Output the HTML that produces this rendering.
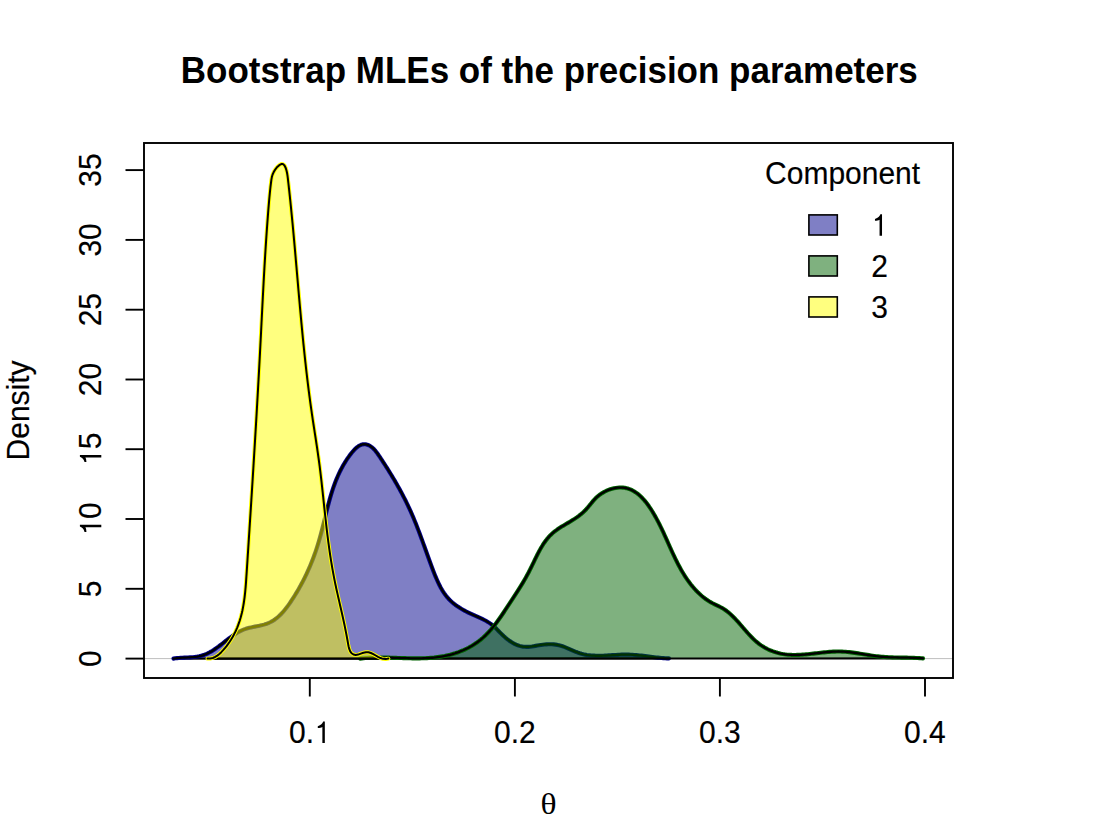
<!DOCTYPE html>
<html><head><meta charset="utf-8"><style>html,body{margin:0;padding:0;background:#fff;overflow:hidden}svg{display:block}</style></head><body>
<svg width="1095" height="823" viewBox="0 0 1095 823">
<rect width="1095" height="823" fill="#fff"/>
<text transform="translate(549.3,83) scale(1,1.055)" font-family="Liberation Sans" font-weight="bold" font-size="35" text-anchor="middle">Bootstrap MLEs of the precision parameters</text>
<line x1="144" y1="658.6" x2="953" y2="658.6" stroke="#bebebe" stroke-width="1"/>
<path d="M173.50,658.60 L175.22,658.33 L176.98,658.11 L178.77,657.94 L180.60,657.81 L182.45,657.70 L184.32,657.61 L186.20,657.53 L188.09,657.44 L189.98,657.33 L191.86,657.20 L193.74,657.04 L195.59,656.83 L197.43,656.56 L199.24,656.22 L201.01,655.80 L202.75,655.30 L204.44,654.71 L206.11,654.05 L207.73,653.31 L209.33,652.50 L210.90,651.64 L212.45,650.71 L213.98,649.74 L215.48,648.73 L216.97,647.68 L218.45,646.61 L219.91,645.50 L221.37,644.38 L222.82,643.25 L224.27,642.11 L225.72,640.97 L227.17,639.84 L228.62,638.72 L230.08,637.62 L231.56,636.54 L233.05,635.49 L234.55,634.48 L236.08,633.51 L237.63,632.58 L239.20,631.70 L240.81,630.89 L242.45,630.13 L244.12,629.44 L245.84,628.82 L247.59,628.28 L249.39,627.80 L251.21,627.38 L253.04,626.98 L254.89,626.62 L256.74,626.25 L258.59,625.89 L260.42,625.50 L262.24,625.08 L264.02,624.61 L265.77,624.08 L267.47,623.48 L269.12,622.78 L270.71,622.00 L272.26,621.14 L273.76,620.21 L275.22,619.20 L276.63,618.12 L278.00,616.98 L279.33,615.78 L280.62,614.52 L281.88,613.22 L283.11,611.87 L284.30,610.47 L285.46,609.05 L286.60,607.59 L287.71,606.10 L288.80,604.59 L289.87,603.06 L290.92,601.52 L291.95,599.96 L292.96,598.40 L293.96,596.84 L294.95,595.26 L295.92,593.68 L296.87,592.10 L297.81,590.51 L298.73,588.91 L299.64,587.31 L300.53,585.70 L301.41,584.08 L302.28,582.46 L303.12,580.84 L303.96,579.20 L304.78,577.57 L305.58,575.92 L306.37,574.27 L307.15,572.62 L307.91,570.96 L308.65,569.29 L309.39,567.62 L310.10,565.94 L310.81,564.26 L311.50,562.57 L312.17,560.88 L312.83,559.18 L313.48,557.48 L314.12,555.77 L314.74,554.06 L315.35,552.34 L315.94,550.62 L316.52,548.89 L317.09,547.16 L317.64,545.42 L318.18,543.68 L318.71,541.94 L319.22,540.19 L319.72,538.43 L320.21,536.67 L320.69,534.91 L321.16,533.14 L321.62,531.37 L322.08,529.60 L322.53,527.83 L322.97,526.05 L323.41,524.28 L323.85,522.50 L324.28,520.72 L324.71,518.94 L325.15,517.16 L325.58,515.38 L326.01,513.60 L326.45,511.82 L326.90,510.04 L327.35,508.27 L327.80,506.49 L328.26,504.72 L328.73,502.95 L329.21,501.19 L329.70,499.42 L330.20,497.66 L330.71,495.91 L331.24,494.16 L331.78,492.41 L332.34,490.67 L332.91,488.93 L333.50,487.20 L334.11,485.47 L334.73,483.75 L335.38,482.04 L336.05,480.34 L336.75,478.64 L337.46,476.95 L338.20,475.26 L338.97,473.59 L339.77,471.92 L340.59,470.27 L341.44,468.62 L342.32,466.98 L343.23,465.35 L344.17,463.74 L345.15,462.13 L346.16,460.53 L347.20,458.95 L348.29,457.38 L349.40,455.82 L350.56,454.27 L351.75,452.74 L352.99,451.27 L354.26,449.86 L355.56,448.56 L356.90,447.38 L358.28,446.34 L359.68,445.49 L361.12,444.83 L362.59,444.39 L364.10,444.20 L365.63,444.29 L367.17,444.65 L368.71,445.25 L370.21,446.06 L371.65,447.06 L373.00,448.22 L374.29,449.52 L375.51,450.93 L376.68,452.42 L377.81,453.98 L378.90,455.58 L379.98,457.20 L381.05,458.81 L382.11,460.42 L383.16,462.03 L384.20,463.63 L385.23,465.24 L386.25,466.83 L387.26,468.43 L388.26,470.02 L389.25,471.62 L390.23,473.21 L391.20,474.80 L392.16,476.38 L393.11,477.97 L394.06,479.56 L394.99,481.15 L395.91,482.73 L396.82,484.32 L397.73,485.91 L398.62,487.50 L399.50,489.09 L400.37,490.68 L401.24,492.28 L402.09,493.88 L402.93,495.48 L403.76,497.08 L404.58,498.69 L405.40,500.30 L406.20,501.91 L406.99,503.53 L407.77,505.15 L408.54,506.78 L409.30,508.41 L410.05,510.05 L410.79,511.69 L411.52,513.34 L412.24,514.99 L412.95,516.65 L413.65,518.32 L414.35,519.99 L415.03,521.67 L415.71,523.35 L416.38,525.03 L417.04,526.72 L417.70,528.42 L418.35,530.12 L419.00,531.82 L419.64,533.53 L420.28,535.24 L420.91,536.95 L421.55,538.67 L422.18,540.39 L422.80,542.11 L423.43,543.84 L424.05,545.56 L424.68,547.29 L425.30,549.03 L425.92,550.76 L426.55,552.50 L427.17,554.24 L427.80,555.98 L428.43,557.72 L429.06,559.46 L429.70,561.20 L430.34,562.94 L430.98,564.69 L431.63,566.43 L432.28,568.18 L432.94,569.92 L433.61,571.66 L434.29,573.40 L434.98,575.14 L435.68,576.86 L436.40,578.58 L437.14,580.28 L437.90,581.96 L438.69,583.63 L439.51,585.27 L440.35,586.89 L441.23,588.49 L442.14,590.05 L443.10,591.59 L444.09,593.09 L445.12,594.55 L446.21,595.98 L447.33,597.36 L448.51,598.71 L449.75,600.00 L451.04,601.25 L452.38,602.45 L453.76,603.61 L455.19,604.73 L456.66,605.80 L458.17,606.83 L459.71,607.83 L461.28,608.79 L462.88,609.72 L464.50,610.62 L466.13,611.49 L467.78,612.33 L469.44,613.14 L471.11,613.93 L472.78,614.69 L474.45,615.44 L476.12,616.17 L477.78,616.91 L479.43,617.65 L481.07,618.40 L482.68,619.17 L484.28,619.97 L485.85,620.81 L487.40,621.69 L488.91,622.63 L490.39,623.62 L491.83,624.68 L493.22,625.81 L494.58,627.02 L495.90,628.29 L497.21,629.61 L498.51,630.96 L499.82,632.32 L501.16,633.67 L502.52,634.99 L503.91,636.29 L505.33,637.56 L506.78,638.77 L508.26,639.94 L509.76,641.04 L511.30,642.07 L512.87,643.02 L514.47,643.88 L516.11,644.65 L517.77,645.32 L519.47,645.87 L521.20,646.30 L522.95,646.62 L524.72,646.82 L526.51,646.90 L528.31,646.86 L530.11,646.71 L531.92,646.47 L533.73,646.18 L535.55,645.86 L537.37,645.52 L539.19,645.21 L541.01,644.93 L542.83,644.69 L544.65,644.49 L546.47,644.35 L548.28,644.26 L550.08,644.24 L551.88,644.29 L553.68,644.41 L555.46,644.61 L557.24,644.89 L559.00,645.27 L560.76,645.74 L562.50,646.30 L564.24,646.93 L565.97,647.61 L567.69,648.33 L569.42,649.08 L571.14,649.84 L572.86,650.60 L574.59,651.33 L576.32,652.04 L578.06,652.69 L579.80,653.29 L581.55,653.81 L583.32,654.25 L585.09,654.63 L586.86,654.95 L588.65,655.21 L590.44,655.41 L592.24,655.57 L594.05,655.67 L595.86,655.74 L597.67,655.77 L599.49,655.77 L601.32,655.73 L603.15,655.68 L604.98,655.60 L606.81,655.50 L608.65,655.40 L610.49,655.28 L612.32,655.16 L614.16,655.05 L616.00,654.93 L617.84,654.83 L619.68,654.74 L621.52,654.67 L623.35,654.62 L625.19,654.59 L627.02,654.60 L628.84,654.64 L630.67,654.71 L632.49,654.81 L634.31,654.94 L636.13,655.09 L637.94,655.26 L639.76,655.45 L641.57,655.65 L643.39,655.86 L645.20,656.08 L647.01,656.31 L648.83,656.54 L650.64,656.76 L652.46,656.99 L654.28,657.21 L656.09,657.42 L657.91,657.62 L659.74,657.80 L661.56,657.97 L663.39,658.12 L665.22,658.24 L667.06,658.33 L668.90,658.40 Z" fill="rgba(0,0,139,0.5)" stroke="none"/>
<line x1="173.5" y1="658.6" x2="668.9" y2="658.4" stroke="#000" stroke-width="2.1"/>
<path d="M173.50,658.60 L175.22,658.33 L176.98,658.11 L178.77,657.94 L180.60,657.81 L182.45,657.70 L184.32,657.61 L186.20,657.53 L188.09,657.44 L189.98,657.33 L191.86,657.20 L193.74,657.04 L195.59,656.83 L197.43,656.56 L199.24,656.22 L201.01,655.80 L202.75,655.30 L204.44,654.71 L206.11,654.05 L207.73,653.31 L209.33,652.50 L210.90,651.64 L212.45,650.71 L213.98,649.74 L215.48,648.73 L216.97,647.68 L218.45,646.61 L219.91,645.50 L221.37,644.38 L222.82,643.25 L224.27,642.11 L225.72,640.97 L227.17,639.84 L228.62,638.72 L230.08,637.62 L231.56,636.54 L233.05,635.49 L234.55,634.48 L236.08,633.51 L237.63,632.58 L239.20,631.70 L240.81,630.89 L242.45,630.13 L244.12,629.44 L245.84,628.82 L247.59,628.28 L249.39,627.80 L251.21,627.38 L253.04,626.98 L254.89,626.62 L256.74,626.25 L258.59,625.89 L260.42,625.50 L262.24,625.08 L264.02,624.61 L265.77,624.08 L267.47,623.48 L269.12,622.78 L270.71,622.00 L272.26,621.14 L273.76,620.21 L275.22,619.20 L276.63,618.12 L278.00,616.98 L279.33,615.78 L280.62,614.52 L281.88,613.22 L283.11,611.87 L284.30,610.47 L285.46,609.05 L286.60,607.59 L287.71,606.10 L288.80,604.59 L289.87,603.06 L290.92,601.52 L291.95,599.96 L292.96,598.40 L293.96,596.84 L294.95,595.26 L295.92,593.68 L296.87,592.10 L297.81,590.51 L298.73,588.91 L299.64,587.31 L300.53,585.70 L301.41,584.08 L302.28,582.46 L303.12,580.84 L303.96,579.20 L304.78,577.57 L305.58,575.92 L306.37,574.27 L307.15,572.62 L307.91,570.96 L308.65,569.29 L309.39,567.62 L310.10,565.94 L310.81,564.26 L311.50,562.57 L312.17,560.88 L312.83,559.18 L313.48,557.48 L314.12,555.77 L314.74,554.06 L315.35,552.34 L315.94,550.62 L316.52,548.89 L317.09,547.16 L317.64,545.42 L318.18,543.68 L318.71,541.94 L319.22,540.19 L319.72,538.43 L320.21,536.67 L320.69,534.91 L321.16,533.14 L321.62,531.37 L322.08,529.60 L322.53,527.83 L322.97,526.05 L323.41,524.28 L323.85,522.50 L324.28,520.72 L324.71,518.94 L325.15,517.16 L325.58,515.38 L326.01,513.60 L326.45,511.82 L326.90,510.04 L327.35,508.27 L327.80,506.49 L328.26,504.72 L328.73,502.95 L329.21,501.19 L329.70,499.42 L330.20,497.66 L330.71,495.91 L331.24,494.16 L331.78,492.41 L332.34,490.67 L332.91,488.93 L333.50,487.20 L334.11,485.47 L334.73,483.75 L335.38,482.04 L336.05,480.34 L336.75,478.64 L337.46,476.95 L338.20,475.26 L338.97,473.59 L339.77,471.92 L340.59,470.27 L341.44,468.62 L342.32,466.98 L343.23,465.35 L344.17,463.74 L345.15,462.13 L346.16,460.53 L347.20,458.95 L348.29,457.38 L349.40,455.82 L350.56,454.27 L351.75,452.74 L352.99,451.27 L354.26,449.86 L355.56,448.56 L356.90,447.38 L358.28,446.34 L359.68,445.49 L361.12,444.83 L362.59,444.39 L364.10,444.20 L365.63,444.29 L367.17,444.65 L368.71,445.25 L370.21,446.06 L371.65,447.06 L373.00,448.22 L374.29,449.52 L375.51,450.93 L376.68,452.42 L377.81,453.98 L378.90,455.58 L379.98,457.20 L381.05,458.81 L382.11,460.42 L383.16,462.03 L384.20,463.63 L385.23,465.24 L386.25,466.83 L387.26,468.43 L388.26,470.02 L389.25,471.62 L390.23,473.21 L391.20,474.80 L392.16,476.38 L393.11,477.97 L394.06,479.56 L394.99,481.15 L395.91,482.73 L396.82,484.32 L397.73,485.91 L398.62,487.50 L399.50,489.09 L400.37,490.68 L401.24,492.28 L402.09,493.88 L402.93,495.48 L403.76,497.08 L404.58,498.69 L405.40,500.30 L406.20,501.91 L406.99,503.53 L407.77,505.15 L408.54,506.78 L409.30,508.41 L410.05,510.05 L410.79,511.69 L411.52,513.34 L412.24,514.99 L412.95,516.65 L413.65,518.32 L414.35,519.99 L415.03,521.67 L415.71,523.35 L416.38,525.03 L417.04,526.72 L417.70,528.42 L418.35,530.12 L419.00,531.82 L419.64,533.53 L420.28,535.24 L420.91,536.95 L421.55,538.67 L422.18,540.39 L422.80,542.11 L423.43,543.84 L424.05,545.56 L424.68,547.29 L425.30,549.03 L425.92,550.76 L426.55,552.50 L427.17,554.24 L427.80,555.98 L428.43,557.72 L429.06,559.46 L429.70,561.20 L430.34,562.94 L430.98,564.69 L431.63,566.43 L432.28,568.18 L432.94,569.92 L433.61,571.66 L434.29,573.40 L434.98,575.14 L435.68,576.86 L436.40,578.58 L437.14,580.28 L437.90,581.96 L438.69,583.63 L439.51,585.27 L440.35,586.89 L441.23,588.49 L442.14,590.05 L443.10,591.59 L444.09,593.09 L445.12,594.55 L446.21,595.98 L447.33,597.36 L448.51,598.71 L449.75,600.00 L451.04,601.25 L452.38,602.45 L453.76,603.61 L455.19,604.73 L456.66,605.80 L458.17,606.83 L459.71,607.83 L461.28,608.79 L462.88,609.72 L464.50,610.62 L466.13,611.49 L467.78,612.33 L469.44,613.14 L471.11,613.93 L472.78,614.69 L474.45,615.44 L476.12,616.17 L477.78,616.91 L479.43,617.65 L481.07,618.40 L482.68,619.17 L484.28,619.97 L485.85,620.81 L487.40,621.69 L488.91,622.63 L490.39,623.62 L491.83,624.68 L493.22,625.81 L494.58,627.02 L495.90,628.29 L497.21,629.61 L498.51,630.96 L499.82,632.32 L501.16,633.67 L502.52,634.99 L503.91,636.29 L505.33,637.56 L506.78,638.77 L508.26,639.94 L509.76,641.04 L511.30,642.07 L512.87,643.02 L514.47,643.88 L516.11,644.65 L517.77,645.32 L519.47,645.87 L521.20,646.30 L522.95,646.62 L524.72,646.82 L526.51,646.90 L528.31,646.86 L530.11,646.71 L531.92,646.47 L533.73,646.18 L535.55,645.86 L537.37,645.52 L539.19,645.21 L541.01,644.93 L542.83,644.69 L544.65,644.49 L546.47,644.35 L548.28,644.26 L550.08,644.24 L551.88,644.29 L553.68,644.41 L555.46,644.61 L557.24,644.89 L559.00,645.27 L560.76,645.74 L562.50,646.30 L564.24,646.93 L565.97,647.61 L567.69,648.33 L569.42,649.08 L571.14,649.84 L572.86,650.60 L574.59,651.33 L576.32,652.04 L578.06,652.69 L579.80,653.29 L581.55,653.81 L583.32,654.25 L585.09,654.63 L586.86,654.95 L588.65,655.21 L590.44,655.41 L592.24,655.57 L594.05,655.67 L595.86,655.74 L597.67,655.77 L599.49,655.77 L601.32,655.73 L603.15,655.68 L604.98,655.60 L606.81,655.50 L608.65,655.40 L610.49,655.28 L612.32,655.16 L614.16,655.05 L616.00,654.93 L617.84,654.83 L619.68,654.74 L621.52,654.67 L623.35,654.62 L625.19,654.59 L627.02,654.60 L628.84,654.64 L630.67,654.71 L632.49,654.81 L634.31,654.94 L636.13,655.09 L637.94,655.26 L639.76,655.45 L641.57,655.65 L643.39,655.86 L645.20,656.08 L647.01,656.31 L648.83,656.54 L650.64,656.76 L652.46,656.99 L654.28,657.21 L656.09,657.42 L657.91,657.62 L659.74,657.80 L661.56,657.97 L663.39,658.12 L665.22,658.24 L667.06,658.33 L668.90,658.40" fill="none" stroke="#00008b" stroke-width="4.1" stroke-linejoin="round" stroke-linecap="round"/>
<path d="M173.50,658.60 L175.22,658.33 L176.98,658.11 L178.77,657.94 L180.60,657.81 L182.45,657.70 L184.32,657.61 L186.20,657.53 L188.09,657.44 L189.98,657.33 L191.86,657.20 L193.74,657.04 L195.59,656.83 L197.43,656.56 L199.24,656.22 L201.01,655.80 L202.75,655.30 L204.44,654.71 L206.11,654.05 L207.73,653.31 L209.33,652.50 L210.90,651.64 L212.45,650.71 L213.98,649.74 L215.48,648.73 L216.97,647.68 L218.45,646.61 L219.91,645.50 L221.37,644.38 L222.82,643.25 L224.27,642.11 L225.72,640.97 L227.17,639.84 L228.62,638.72 L230.08,637.62 L231.56,636.54 L233.05,635.49 L234.55,634.48 L236.08,633.51 L237.63,632.58 L239.20,631.70 L240.81,630.89 L242.45,630.13 L244.12,629.44 L245.84,628.82 L247.59,628.28 L249.39,627.80 L251.21,627.38 L253.04,626.98 L254.89,626.62 L256.74,626.25 L258.59,625.89 L260.42,625.50 L262.24,625.08 L264.02,624.61 L265.77,624.08 L267.47,623.48 L269.12,622.78 L270.71,622.00 L272.26,621.14 L273.76,620.21 L275.22,619.20 L276.63,618.12 L278.00,616.98 L279.33,615.78 L280.62,614.52 L281.88,613.22 L283.11,611.87 L284.30,610.47 L285.46,609.05 L286.60,607.59 L287.71,606.10 L288.80,604.59 L289.87,603.06 L290.92,601.52 L291.95,599.96 L292.96,598.40 L293.96,596.84 L294.95,595.26 L295.92,593.68 L296.87,592.10 L297.81,590.51 L298.73,588.91 L299.64,587.31 L300.53,585.70 L301.41,584.08 L302.28,582.46 L303.12,580.84 L303.96,579.20 L304.78,577.57 L305.58,575.92 L306.37,574.27 L307.15,572.62 L307.91,570.96 L308.65,569.29 L309.39,567.62 L310.10,565.94 L310.81,564.26 L311.50,562.57 L312.17,560.88 L312.83,559.18 L313.48,557.48 L314.12,555.77 L314.74,554.06 L315.35,552.34 L315.94,550.62 L316.52,548.89 L317.09,547.16 L317.64,545.42 L318.18,543.68 L318.71,541.94 L319.22,540.19 L319.72,538.43 L320.21,536.67 L320.69,534.91 L321.16,533.14 L321.62,531.37 L322.08,529.60 L322.53,527.83 L322.97,526.05 L323.41,524.28 L323.85,522.50 L324.28,520.72 L324.71,518.94 L325.15,517.16 L325.58,515.38 L326.01,513.60 L326.45,511.82 L326.90,510.04 L327.35,508.27 L327.80,506.49 L328.26,504.72 L328.73,502.95 L329.21,501.19 L329.70,499.42 L330.20,497.66 L330.71,495.91 L331.24,494.16 L331.78,492.41 L332.34,490.67 L332.91,488.93 L333.50,487.20 L334.11,485.47 L334.73,483.75 L335.38,482.04 L336.05,480.34 L336.75,478.64 L337.46,476.95 L338.20,475.26 L338.97,473.59 L339.77,471.92 L340.59,470.27 L341.44,468.62 L342.32,466.98 L343.23,465.35 L344.17,463.74 L345.15,462.13 L346.16,460.53 L347.20,458.95 L348.29,457.38 L349.40,455.82 L350.56,454.27 L351.75,452.74 L352.99,451.27 L354.26,449.86 L355.56,448.56 L356.90,447.38 L358.28,446.34 L359.68,445.49 L361.12,444.83 L362.59,444.39 L364.10,444.20 L365.63,444.29 L367.17,444.65 L368.71,445.25 L370.21,446.06 L371.65,447.06 L373.00,448.22 L374.29,449.52 L375.51,450.93 L376.68,452.42 L377.81,453.98 L378.90,455.58 L379.98,457.20 L381.05,458.81 L382.11,460.42 L383.16,462.03 L384.20,463.63 L385.23,465.24 L386.25,466.83 L387.26,468.43 L388.26,470.02 L389.25,471.62 L390.23,473.21 L391.20,474.80 L392.16,476.38 L393.11,477.97 L394.06,479.56 L394.99,481.15 L395.91,482.73 L396.82,484.32 L397.73,485.91 L398.62,487.50 L399.50,489.09 L400.37,490.68 L401.24,492.28 L402.09,493.88 L402.93,495.48 L403.76,497.08 L404.58,498.69 L405.40,500.30 L406.20,501.91 L406.99,503.53 L407.77,505.15 L408.54,506.78 L409.30,508.41 L410.05,510.05 L410.79,511.69 L411.52,513.34 L412.24,514.99 L412.95,516.65 L413.65,518.32 L414.35,519.99 L415.03,521.67 L415.71,523.35 L416.38,525.03 L417.04,526.72 L417.70,528.42 L418.35,530.12 L419.00,531.82 L419.64,533.53 L420.28,535.24 L420.91,536.95 L421.55,538.67 L422.18,540.39 L422.80,542.11 L423.43,543.84 L424.05,545.56 L424.68,547.29 L425.30,549.03 L425.92,550.76 L426.55,552.50 L427.17,554.24 L427.80,555.98 L428.43,557.72 L429.06,559.46 L429.70,561.20 L430.34,562.94 L430.98,564.69 L431.63,566.43 L432.28,568.18 L432.94,569.92 L433.61,571.66 L434.29,573.40 L434.98,575.14 L435.68,576.86 L436.40,578.58 L437.14,580.28 L437.90,581.96 L438.69,583.63 L439.51,585.27 L440.35,586.89 L441.23,588.49 L442.14,590.05 L443.10,591.59 L444.09,593.09 L445.12,594.55 L446.21,595.98 L447.33,597.36 L448.51,598.71 L449.75,600.00 L451.04,601.25 L452.38,602.45 L453.76,603.61 L455.19,604.73 L456.66,605.80 L458.17,606.83 L459.71,607.83 L461.28,608.79 L462.88,609.72 L464.50,610.62 L466.13,611.49 L467.78,612.33 L469.44,613.14 L471.11,613.93 L472.78,614.69 L474.45,615.44 L476.12,616.17 L477.78,616.91 L479.43,617.65 L481.07,618.40 L482.68,619.17 L484.28,619.97 L485.85,620.81 L487.40,621.69 L488.91,622.63 L490.39,623.62 L491.83,624.68 L493.22,625.81 L494.58,627.02 L495.90,628.29 L497.21,629.61 L498.51,630.96 L499.82,632.32 L501.16,633.67 L502.52,634.99 L503.91,636.29 L505.33,637.56 L506.78,638.77 L508.26,639.94 L509.76,641.04 L511.30,642.07 L512.87,643.02 L514.47,643.88 L516.11,644.65 L517.77,645.32 L519.47,645.87 L521.20,646.30 L522.95,646.62 L524.72,646.82 L526.51,646.90 L528.31,646.86 L530.11,646.71 L531.92,646.47 L533.73,646.18 L535.55,645.86 L537.37,645.52 L539.19,645.21 L541.01,644.93 L542.83,644.69 L544.65,644.49 L546.47,644.35 L548.28,644.26 L550.08,644.24 L551.88,644.29 L553.68,644.41 L555.46,644.61 L557.24,644.89 L559.00,645.27 L560.76,645.74 L562.50,646.30 L564.24,646.93 L565.97,647.61 L567.69,648.33 L569.42,649.08 L571.14,649.84 L572.86,650.60 L574.59,651.33 L576.32,652.04 L578.06,652.69 L579.80,653.29 L581.55,653.81 L583.32,654.25 L585.09,654.63 L586.86,654.95 L588.65,655.21 L590.44,655.41 L592.24,655.57 L594.05,655.67 L595.86,655.74 L597.67,655.77 L599.49,655.77 L601.32,655.73 L603.15,655.68 L604.98,655.60 L606.81,655.50 L608.65,655.40 L610.49,655.28 L612.32,655.16 L614.16,655.05 L616.00,654.93 L617.84,654.83 L619.68,654.74 L621.52,654.67 L623.35,654.62 L625.19,654.59 L627.02,654.60 L628.84,654.64 L630.67,654.71 L632.49,654.81 L634.31,654.94 L636.13,655.09 L637.94,655.26 L639.76,655.45 L641.57,655.65 L643.39,655.86 L645.20,656.08 L647.01,656.31 L648.83,656.54 L650.64,656.76 L652.46,656.99 L654.28,657.21 L656.09,657.42 L657.91,657.62 L659.74,657.80 L661.56,657.97 L663.39,658.12 L665.22,658.24 L667.06,658.33 L668.90,658.40" fill="none" stroke="#000" stroke-width="2.3" stroke-linejoin="round" stroke-linecap="round"/>

<path d="M360.00,658.60 L361.78,658.40 L363.56,658.22 L365.34,658.06 L367.13,657.93 L368.92,657.82 L370.71,657.73 L372.51,657.66 L374.31,657.60 L376.11,657.56 L377.92,657.54 L379.72,657.53 L381.53,657.54 L383.35,657.55 L385.16,657.58 L386.97,657.61 L388.79,657.65 L390.61,657.70 L392.43,657.75 L394.25,657.81 L396.07,657.87 L397.89,657.93 L399.71,658.00 L401.53,658.06 L403.35,658.12 L405.17,658.17 L406.99,658.22 L408.81,658.27 L410.63,658.30 L412.44,658.33 L414.26,658.35 L416.07,658.36 L417.89,658.36 L419.70,658.34 L421.50,658.31 L423.31,658.26 L425.12,658.19 L426.92,658.11 L428.72,658.01 L430.51,657.88 L432.30,657.73 L434.09,657.57 L435.88,657.37 L437.66,657.15 L439.44,656.90 L441.21,656.63 L442.98,656.32 L444.75,655.99 L446.51,655.62 L448.27,655.21 L450.02,654.78 L451.76,654.31 L453.49,653.80 L455.22,653.27 L456.93,652.69 L458.64,652.09 L460.33,651.44 L462.00,650.76 L463.66,650.05 L465.30,649.30 L466.93,648.52 L468.53,647.70 L470.12,646.84 L471.68,645.95 L473.22,645.02 L474.73,644.06 L476.22,643.06 L477.68,642.02 L479.11,640.95 L480.52,639.84 L481.89,638.70 L483.24,637.51 L484.55,636.30 L485.85,635.06 L487.11,633.78 L488.35,632.48 L489.57,631.15 L490.77,629.80 L491.94,628.42 L493.10,627.03 L494.23,625.61 L495.35,624.18 L496.46,622.72 L497.54,621.26 L498.62,619.78 L499.68,618.29 L500.73,616.79 L501.76,615.28 L502.79,613.77 L503.81,612.25 L504.82,610.73 L505.82,609.21 L506.82,607.68 L507.82,606.16 L508.81,604.65 L509.80,603.13 L510.79,601.63 L511.77,600.13 L512.76,598.63 L513.73,597.13 L514.71,595.64 L515.68,594.14 L516.65,592.65 L517.61,591.15 L518.56,589.65 L519.51,588.15 L520.45,586.64 L521.38,585.13 L522.31,583.60 L523.22,582.08 L524.13,580.54 L525.02,578.99 L525.91,577.43 L526.78,575.86 L527.65,574.27 L528.50,572.68 L529.34,571.06 L530.16,569.43 L530.98,567.79 L531.79,566.14 L532.59,564.47 L533.39,562.81 L534.20,561.14 L535.00,559.47 L535.81,557.81 L536.63,556.15 L537.46,554.50 L538.30,552.87 L539.16,551.25 L540.04,549.64 L540.94,548.06 L541.87,546.50 L542.82,544.96 L543.80,543.46 L544.82,541.98 L545.86,540.55 L546.95,539.14 L548.08,537.78 L549.25,536.46 L550.46,535.19 L551.73,533.96 L553.04,532.79 L554.41,531.66 L555.82,530.58 L557.26,529.54 L558.74,528.53 L560.25,527.55 L561.78,526.60 L563.33,525.66 L564.89,524.73 L566.46,523.81 L568.02,522.89 L569.59,521.97 L571.14,521.04 L572.68,520.09 L574.20,519.12 L575.69,518.13 L577.16,517.11 L578.59,516.06 L580.00,514.97 L581.36,513.85 L582.70,512.69 L584.00,511.49 L585.26,510.25 L586.48,508.97 L587.66,507.64 L588.81,506.28 L589.94,504.89 L591.08,503.49 L592.22,502.09 L593.40,500.70 L594.61,499.35 L595.88,498.03 L597.21,496.76 L598.63,495.56 L600.12,494.43 L601.69,493.37 L603.32,492.39 L604.99,491.49 L606.72,490.67 L608.48,489.94 L610.26,489.30 L612.07,488.76 L613.89,488.30 L615.70,487.95 L617.52,487.71 L619.31,487.57 L621.09,487.54 L622.83,487.63 L624.53,487.83 L626.19,488.14 L627.81,488.57 L629.40,489.09 L630.94,489.72 L632.45,490.44 L633.92,491.26 L635.35,492.15 L636.75,493.13 L638.11,494.18 L639.44,495.31 L640.74,496.50 L642.00,497.75 L643.23,499.06 L644.43,500.42 L645.61,501.83 L646.75,503.28 L647.86,504.77 L648.95,506.29 L650.00,507.84 L651.04,509.42 L652.04,511.01 L653.02,512.62 L653.98,514.24 L654.92,515.86 L655.83,517.48 L656.72,519.11 L657.59,520.75 L658.45,522.38 L659.28,524.02 L660.10,525.66 L660.91,527.30 L661.70,528.94 L662.48,530.59 L663.25,532.23 L664.01,533.87 L664.77,535.52 L665.51,537.16 L666.25,538.81 L666.99,540.45 L667.72,542.09 L668.45,543.73 L669.18,545.36 L669.91,547.00 L670.64,548.63 L671.38,550.25 L672.12,551.88 L672.86,553.50 L673.61,555.11 L674.37,556.72 L675.14,558.33 L675.92,559.93 L676.72,561.52 L677.52,563.11 L678.34,564.69 L679.18,566.27 L680.03,567.83 L680.90,569.40 L681.79,570.95 L682.70,572.49 L683.63,574.03 L684.59,575.55 L685.57,577.07 L686.58,578.58 L687.61,580.07 L688.67,581.55 L689.75,583.01 L690.86,584.46 L692.00,585.88 L693.17,587.28 L694.36,588.65 L695.58,590.00 L696.83,591.32 L698.11,592.60 L699.42,593.85 L700.76,595.07 L702.13,596.25 L703.52,597.38 L704.95,598.48 L706.41,599.53 L707.90,600.53 L709.42,601.49 L710.98,602.39 L712.56,603.25 L714.17,604.06 L715.79,604.86 L717.41,605.64 L719.03,606.43 L720.63,607.25 L722.19,608.11 L723.72,609.02 L725.21,609.99 L726.65,611.02 L728.06,612.11 L729.43,613.26 L730.76,614.44 L732.07,615.67 L733.35,616.93 L734.62,618.22 L735.86,619.54 L737.08,620.88 L738.30,622.24 L739.50,623.61 L740.70,624.99 L741.89,626.37 L743.08,627.75 L744.28,629.14 L745.47,630.52 L746.68,631.89 L747.89,633.25 L749.12,634.59 L750.36,635.91 L751.62,637.21 L752.89,638.49 L754.19,639.73 L755.52,640.94 L756.88,642.11 L758.26,643.25 L759.68,644.33 L761.14,645.37 L762.64,646.36 L764.18,647.30 L765.75,648.18 L767.36,649.01 L769.00,649.78 L770.67,650.49 L772.36,651.16 L774.08,651.77 L775.81,652.32 L777.56,652.82 L779.32,653.26 L781.09,653.65 L782.87,653.98 L784.64,654.26 L786.42,654.49 L788.21,654.67 L789.99,654.80 L791.78,654.89 L793.56,654.94 L795.35,654.95 L797.15,654.92 L798.94,654.87 L800.73,654.78 L802.53,654.67 L804.32,654.54 L806.12,654.38 L807.92,654.21 L809.72,654.03 L811.52,653.83 L813.32,653.62 L815.12,653.41 L816.92,653.20 L818.72,652.99 L820.52,652.78 L822.32,652.58 L824.12,652.39 L825.93,652.20 L827.73,652.04 L829.53,651.89 L831.33,651.76 L833.13,651.66 L834.92,651.58 L836.72,651.54 L838.52,651.52 L840.31,651.54 L842.11,651.60 L843.90,651.69 L845.69,651.82 L847.49,651.98 L849.28,652.16 L851.07,652.37 L852.86,652.60 L854.65,652.85 L856.44,653.11 L858.23,653.38 L860.01,653.67 L861.80,653.96 L863.59,654.25 L865.38,654.55 L867.17,654.84 L868.96,655.13 L870.75,655.41 L872.55,655.68 L874.34,655.93 L876.13,656.17 L877.93,656.39 L879.72,656.58 L881.52,656.75 L883.32,656.90 L885.12,657.03 L886.92,657.14 L888.72,657.23 L890.52,657.31 L892.32,657.37 L894.13,657.43 L895.93,657.47 L897.74,657.51 L899.54,657.55 L901.35,657.58 L903.15,657.61 L904.96,657.64 L906.76,657.67 L908.57,657.71 L910.37,657.75 L912.18,657.80 L913.98,657.87 L915.79,657.94 L917.59,658.03 L919.40,658.13 L921.20,658.26 L923.00,658.40 Z" fill="rgba(0,100,0,0.5)" stroke="none"/>
<line x1="360" y1="658.6" x2="923" y2="658.4" stroke="#000" stroke-width="2.1"/>
<path d="M360.00,658.60 L361.78,658.40 L363.56,658.22 L365.34,658.06 L367.13,657.93 L368.92,657.82 L370.71,657.73 L372.51,657.66 L374.31,657.60 L376.11,657.56 L377.92,657.54 L379.72,657.53 L381.53,657.54 L383.35,657.55 L385.16,657.58 L386.97,657.61 L388.79,657.65 L390.61,657.70 L392.43,657.75 L394.25,657.81 L396.07,657.87 L397.89,657.93 L399.71,658.00 L401.53,658.06 L403.35,658.12 L405.17,658.17 L406.99,658.22 L408.81,658.27 L410.63,658.30 L412.44,658.33 L414.26,658.35 L416.07,658.36 L417.89,658.36 L419.70,658.34 L421.50,658.31 L423.31,658.26 L425.12,658.19 L426.92,658.11 L428.72,658.01 L430.51,657.88 L432.30,657.73 L434.09,657.57 L435.88,657.37 L437.66,657.15 L439.44,656.90 L441.21,656.63 L442.98,656.32 L444.75,655.99 L446.51,655.62 L448.27,655.21 L450.02,654.78 L451.76,654.31 L453.49,653.80 L455.22,653.27 L456.93,652.69 L458.64,652.09 L460.33,651.44 L462.00,650.76 L463.66,650.05 L465.30,649.30 L466.93,648.52 L468.53,647.70 L470.12,646.84 L471.68,645.95 L473.22,645.02 L474.73,644.06 L476.22,643.06 L477.68,642.02 L479.11,640.95 L480.52,639.84 L481.89,638.70 L483.24,637.51 L484.55,636.30 L485.85,635.06 L487.11,633.78 L488.35,632.48 L489.57,631.15 L490.77,629.80 L491.94,628.42 L493.10,627.03 L494.23,625.61 L495.35,624.18 L496.46,622.72 L497.54,621.26 L498.62,619.78 L499.68,618.29 L500.73,616.79 L501.76,615.28 L502.79,613.77 L503.81,612.25 L504.82,610.73 L505.82,609.21 L506.82,607.68 L507.82,606.16 L508.81,604.65 L509.80,603.13 L510.79,601.63 L511.77,600.13 L512.76,598.63 L513.73,597.13 L514.71,595.64 L515.68,594.14 L516.65,592.65 L517.61,591.15 L518.56,589.65 L519.51,588.15 L520.45,586.64 L521.38,585.13 L522.31,583.60 L523.22,582.08 L524.13,580.54 L525.02,578.99 L525.91,577.43 L526.78,575.86 L527.65,574.27 L528.50,572.68 L529.34,571.06 L530.16,569.43 L530.98,567.79 L531.79,566.14 L532.59,564.47 L533.39,562.81 L534.20,561.14 L535.00,559.47 L535.81,557.81 L536.63,556.15 L537.46,554.50 L538.30,552.87 L539.16,551.25 L540.04,549.64 L540.94,548.06 L541.87,546.50 L542.82,544.96 L543.80,543.46 L544.82,541.98 L545.86,540.55 L546.95,539.14 L548.08,537.78 L549.25,536.46 L550.46,535.19 L551.73,533.96 L553.04,532.79 L554.41,531.66 L555.82,530.58 L557.26,529.54 L558.74,528.53 L560.25,527.55 L561.78,526.60 L563.33,525.66 L564.89,524.73 L566.46,523.81 L568.02,522.89 L569.59,521.97 L571.14,521.04 L572.68,520.09 L574.20,519.12 L575.69,518.13 L577.16,517.11 L578.59,516.06 L580.00,514.97 L581.36,513.85 L582.70,512.69 L584.00,511.49 L585.26,510.25 L586.48,508.97 L587.66,507.64 L588.81,506.28 L589.94,504.89 L591.08,503.49 L592.22,502.09 L593.40,500.70 L594.61,499.35 L595.88,498.03 L597.21,496.76 L598.63,495.56 L600.12,494.43 L601.69,493.37 L603.32,492.39 L604.99,491.49 L606.72,490.67 L608.48,489.94 L610.26,489.30 L612.07,488.76 L613.89,488.30 L615.70,487.95 L617.52,487.71 L619.31,487.57 L621.09,487.54 L622.83,487.63 L624.53,487.83 L626.19,488.14 L627.81,488.57 L629.40,489.09 L630.94,489.72 L632.45,490.44 L633.92,491.26 L635.35,492.15 L636.75,493.13 L638.11,494.18 L639.44,495.31 L640.74,496.50 L642.00,497.75 L643.23,499.06 L644.43,500.42 L645.61,501.83 L646.75,503.28 L647.86,504.77 L648.95,506.29 L650.00,507.84 L651.04,509.42 L652.04,511.01 L653.02,512.62 L653.98,514.24 L654.92,515.86 L655.83,517.48 L656.72,519.11 L657.59,520.75 L658.45,522.38 L659.28,524.02 L660.10,525.66 L660.91,527.30 L661.70,528.94 L662.48,530.59 L663.25,532.23 L664.01,533.87 L664.77,535.52 L665.51,537.16 L666.25,538.81 L666.99,540.45 L667.72,542.09 L668.45,543.73 L669.18,545.36 L669.91,547.00 L670.64,548.63 L671.38,550.25 L672.12,551.88 L672.86,553.50 L673.61,555.11 L674.37,556.72 L675.14,558.33 L675.92,559.93 L676.72,561.52 L677.52,563.11 L678.34,564.69 L679.18,566.27 L680.03,567.83 L680.90,569.40 L681.79,570.95 L682.70,572.49 L683.63,574.03 L684.59,575.55 L685.57,577.07 L686.58,578.58 L687.61,580.07 L688.67,581.55 L689.75,583.01 L690.86,584.46 L692.00,585.88 L693.17,587.28 L694.36,588.65 L695.58,590.00 L696.83,591.32 L698.11,592.60 L699.42,593.85 L700.76,595.07 L702.13,596.25 L703.52,597.38 L704.95,598.48 L706.41,599.53 L707.90,600.53 L709.42,601.49 L710.98,602.39 L712.56,603.25 L714.17,604.06 L715.79,604.86 L717.41,605.64 L719.03,606.43 L720.63,607.25 L722.19,608.11 L723.72,609.02 L725.21,609.99 L726.65,611.02 L728.06,612.11 L729.43,613.26 L730.76,614.44 L732.07,615.67 L733.35,616.93 L734.62,618.22 L735.86,619.54 L737.08,620.88 L738.30,622.24 L739.50,623.61 L740.70,624.99 L741.89,626.37 L743.08,627.75 L744.28,629.14 L745.47,630.52 L746.68,631.89 L747.89,633.25 L749.12,634.59 L750.36,635.91 L751.62,637.21 L752.89,638.49 L754.19,639.73 L755.52,640.94 L756.88,642.11 L758.26,643.25 L759.68,644.33 L761.14,645.37 L762.64,646.36 L764.18,647.30 L765.75,648.18 L767.36,649.01 L769.00,649.78 L770.67,650.49 L772.36,651.16 L774.08,651.77 L775.81,652.32 L777.56,652.82 L779.32,653.26 L781.09,653.65 L782.87,653.98 L784.64,654.26 L786.42,654.49 L788.21,654.67 L789.99,654.80 L791.78,654.89 L793.56,654.94 L795.35,654.95 L797.15,654.92 L798.94,654.87 L800.73,654.78 L802.53,654.67 L804.32,654.54 L806.12,654.38 L807.92,654.21 L809.72,654.03 L811.52,653.83 L813.32,653.62 L815.12,653.41 L816.92,653.20 L818.72,652.99 L820.52,652.78 L822.32,652.58 L824.12,652.39 L825.93,652.20 L827.73,652.04 L829.53,651.89 L831.33,651.76 L833.13,651.66 L834.92,651.58 L836.72,651.54 L838.52,651.52 L840.31,651.54 L842.11,651.60 L843.90,651.69 L845.69,651.82 L847.49,651.98 L849.28,652.16 L851.07,652.37 L852.86,652.60 L854.65,652.85 L856.44,653.11 L858.23,653.38 L860.01,653.67 L861.80,653.96 L863.59,654.25 L865.38,654.55 L867.17,654.84 L868.96,655.13 L870.75,655.41 L872.55,655.68 L874.34,655.93 L876.13,656.17 L877.93,656.39 L879.72,656.58 L881.52,656.75 L883.32,656.90 L885.12,657.03 L886.92,657.14 L888.72,657.23 L890.52,657.31 L892.32,657.37 L894.13,657.43 L895.93,657.47 L897.74,657.51 L899.54,657.55 L901.35,657.58 L903.15,657.61 L904.96,657.64 L906.76,657.67 L908.57,657.71 L910.37,657.75 L912.18,657.80 L913.98,657.87 L915.79,657.94 L917.59,658.03 L919.40,658.13 L921.20,658.26 L923.00,658.40" fill="none" stroke="#006400" stroke-width="4.1" stroke-linejoin="round" stroke-linecap="round"/>
<path d="M360.00,658.60 L361.78,658.40 L363.56,658.22 L365.34,658.06 L367.13,657.93 L368.92,657.82 L370.71,657.73 L372.51,657.66 L374.31,657.60 L376.11,657.56 L377.92,657.54 L379.72,657.53 L381.53,657.54 L383.35,657.55 L385.16,657.58 L386.97,657.61 L388.79,657.65 L390.61,657.70 L392.43,657.75 L394.25,657.81 L396.07,657.87 L397.89,657.93 L399.71,658.00 L401.53,658.06 L403.35,658.12 L405.17,658.17 L406.99,658.22 L408.81,658.27 L410.63,658.30 L412.44,658.33 L414.26,658.35 L416.07,658.36 L417.89,658.36 L419.70,658.34 L421.50,658.31 L423.31,658.26 L425.12,658.19 L426.92,658.11 L428.72,658.01 L430.51,657.88 L432.30,657.73 L434.09,657.57 L435.88,657.37 L437.66,657.15 L439.44,656.90 L441.21,656.63 L442.98,656.32 L444.75,655.99 L446.51,655.62 L448.27,655.21 L450.02,654.78 L451.76,654.31 L453.49,653.80 L455.22,653.27 L456.93,652.69 L458.64,652.09 L460.33,651.44 L462.00,650.76 L463.66,650.05 L465.30,649.30 L466.93,648.52 L468.53,647.70 L470.12,646.84 L471.68,645.95 L473.22,645.02 L474.73,644.06 L476.22,643.06 L477.68,642.02 L479.11,640.95 L480.52,639.84 L481.89,638.70 L483.24,637.51 L484.55,636.30 L485.85,635.06 L487.11,633.78 L488.35,632.48 L489.57,631.15 L490.77,629.80 L491.94,628.42 L493.10,627.03 L494.23,625.61 L495.35,624.18 L496.46,622.72 L497.54,621.26 L498.62,619.78 L499.68,618.29 L500.73,616.79 L501.76,615.28 L502.79,613.77 L503.81,612.25 L504.82,610.73 L505.82,609.21 L506.82,607.68 L507.82,606.16 L508.81,604.65 L509.80,603.13 L510.79,601.63 L511.77,600.13 L512.76,598.63 L513.73,597.13 L514.71,595.64 L515.68,594.14 L516.65,592.65 L517.61,591.15 L518.56,589.65 L519.51,588.15 L520.45,586.64 L521.38,585.13 L522.31,583.60 L523.22,582.08 L524.13,580.54 L525.02,578.99 L525.91,577.43 L526.78,575.86 L527.65,574.27 L528.50,572.68 L529.34,571.06 L530.16,569.43 L530.98,567.79 L531.79,566.14 L532.59,564.47 L533.39,562.81 L534.20,561.14 L535.00,559.47 L535.81,557.81 L536.63,556.15 L537.46,554.50 L538.30,552.87 L539.16,551.25 L540.04,549.64 L540.94,548.06 L541.87,546.50 L542.82,544.96 L543.80,543.46 L544.82,541.98 L545.86,540.55 L546.95,539.14 L548.08,537.78 L549.25,536.46 L550.46,535.19 L551.73,533.96 L553.04,532.79 L554.41,531.66 L555.82,530.58 L557.26,529.54 L558.74,528.53 L560.25,527.55 L561.78,526.60 L563.33,525.66 L564.89,524.73 L566.46,523.81 L568.02,522.89 L569.59,521.97 L571.14,521.04 L572.68,520.09 L574.20,519.12 L575.69,518.13 L577.16,517.11 L578.59,516.06 L580.00,514.97 L581.36,513.85 L582.70,512.69 L584.00,511.49 L585.26,510.25 L586.48,508.97 L587.66,507.64 L588.81,506.28 L589.94,504.89 L591.08,503.49 L592.22,502.09 L593.40,500.70 L594.61,499.35 L595.88,498.03 L597.21,496.76 L598.63,495.56 L600.12,494.43 L601.69,493.37 L603.32,492.39 L604.99,491.49 L606.72,490.67 L608.48,489.94 L610.26,489.30 L612.07,488.76 L613.89,488.30 L615.70,487.95 L617.52,487.71 L619.31,487.57 L621.09,487.54 L622.83,487.63 L624.53,487.83 L626.19,488.14 L627.81,488.57 L629.40,489.09 L630.94,489.72 L632.45,490.44 L633.92,491.26 L635.35,492.15 L636.75,493.13 L638.11,494.18 L639.44,495.31 L640.74,496.50 L642.00,497.75 L643.23,499.06 L644.43,500.42 L645.61,501.83 L646.75,503.28 L647.86,504.77 L648.95,506.29 L650.00,507.84 L651.04,509.42 L652.04,511.01 L653.02,512.62 L653.98,514.24 L654.92,515.86 L655.83,517.48 L656.72,519.11 L657.59,520.75 L658.45,522.38 L659.28,524.02 L660.10,525.66 L660.91,527.30 L661.70,528.94 L662.48,530.59 L663.25,532.23 L664.01,533.87 L664.77,535.52 L665.51,537.16 L666.25,538.81 L666.99,540.45 L667.72,542.09 L668.45,543.73 L669.18,545.36 L669.91,547.00 L670.64,548.63 L671.38,550.25 L672.12,551.88 L672.86,553.50 L673.61,555.11 L674.37,556.72 L675.14,558.33 L675.92,559.93 L676.72,561.52 L677.52,563.11 L678.34,564.69 L679.18,566.27 L680.03,567.83 L680.90,569.40 L681.79,570.95 L682.70,572.49 L683.63,574.03 L684.59,575.55 L685.57,577.07 L686.58,578.58 L687.61,580.07 L688.67,581.55 L689.75,583.01 L690.86,584.46 L692.00,585.88 L693.17,587.28 L694.36,588.65 L695.58,590.00 L696.83,591.32 L698.11,592.60 L699.42,593.85 L700.76,595.07 L702.13,596.25 L703.52,597.38 L704.95,598.48 L706.41,599.53 L707.90,600.53 L709.42,601.49 L710.98,602.39 L712.56,603.25 L714.17,604.06 L715.79,604.86 L717.41,605.64 L719.03,606.43 L720.63,607.25 L722.19,608.11 L723.72,609.02 L725.21,609.99 L726.65,611.02 L728.06,612.11 L729.43,613.26 L730.76,614.44 L732.07,615.67 L733.35,616.93 L734.62,618.22 L735.86,619.54 L737.08,620.88 L738.30,622.24 L739.50,623.61 L740.70,624.99 L741.89,626.37 L743.08,627.75 L744.28,629.14 L745.47,630.52 L746.68,631.89 L747.89,633.25 L749.12,634.59 L750.36,635.91 L751.62,637.21 L752.89,638.49 L754.19,639.73 L755.52,640.94 L756.88,642.11 L758.26,643.25 L759.68,644.33 L761.14,645.37 L762.64,646.36 L764.18,647.30 L765.75,648.18 L767.36,649.01 L769.00,649.78 L770.67,650.49 L772.36,651.16 L774.08,651.77 L775.81,652.32 L777.56,652.82 L779.32,653.26 L781.09,653.65 L782.87,653.98 L784.64,654.26 L786.42,654.49 L788.21,654.67 L789.99,654.80 L791.78,654.89 L793.56,654.94 L795.35,654.95 L797.15,654.92 L798.94,654.87 L800.73,654.78 L802.53,654.67 L804.32,654.54 L806.12,654.38 L807.92,654.21 L809.72,654.03 L811.52,653.83 L813.32,653.62 L815.12,653.41 L816.92,653.20 L818.72,652.99 L820.52,652.78 L822.32,652.58 L824.12,652.39 L825.93,652.20 L827.73,652.04 L829.53,651.89 L831.33,651.76 L833.13,651.66 L834.92,651.58 L836.72,651.54 L838.52,651.52 L840.31,651.54 L842.11,651.60 L843.90,651.69 L845.69,651.82 L847.49,651.98 L849.28,652.16 L851.07,652.37 L852.86,652.60 L854.65,652.85 L856.44,653.11 L858.23,653.38 L860.01,653.67 L861.80,653.96 L863.59,654.25 L865.38,654.55 L867.17,654.84 L868.96,655.13 L870.75,655.41 L872.55,655.68 L874.34,655.93 L876.13,656.17 L877.93,656.39 L879.72,656.58 L881.52,656.75 L883.32,656.90 L885.12,657.03 L886.92,657.14 L888.72,657.23 L890.52,657.31 L892.32,657.37 L894.13,657.43 L895.93,657.47 L897.74,657.51 L899.54,657.55 L901.35,657.58 L903.15,657.61 L904.96,657.64 L906.76,657.67 L908.57,657.71 L910.37,657.75 L912.18,657.80 L913.98,657.87 L915.79,657.94 L917.59,658.03 L919.40,658.13 L921.20,658.26 L923.00,658.40" fill="none" stroke="#000" stroke-width="2.3" stroke-linejoin="round" stroke-linecap="round"/>

<path d="M207.50,658.60 L210.24,658.53 L212.78,657.96 L215.13,656.97 L217.33,655.62 L219.38,654.00 L221.32,652.16 L223.15,650.19 L224.90,648.15 L226.58,646.06 L228.17,643.92 L229.69,641.73 L231.12,639.49 L232.48,637.22 L233.76,634.91 L234.96,632.57 L236.08,630.20 L237.12,627.81 L238.08,625.39 L238.96,622.95 L239.78,620.49 L240.53,618.01 L241.21,615.51 L241.84,612.99 L242.41,610.46 L242.92,607.91 L243.39,605.35 L243.82,602.77 L244.20,600.18 L244.55,597.59 L244.86,594.98 L245.14,592.36 L245.39,589.74 L245.63,587.11 L245.84,584.47 L246.04,581.83 L246.22,579.19 L246.40,576.55 L246.58,573.90 L246.75,571.26 L246.92,568.62 L247.09,565.97 L247.27,563.33 L247.44,560.69 L247.61,558.05 L247.78,555.41 L247.96,552.77 L248.13,550.13 L248.30,547.49 L248.47,544.85 L248.64,542.21 L248.81,539.57 L248.98,536.93 L249.15,534.30 L249.33,531.66 L249.50,529.02 L249.66,526.39 L249.83,523.75 L250.00,521.12 L250.17,518.48 L250.34,515.85 L250.51,513.22 L250.68,510.58 L250.85,507.95 L251.01,505.32 L251.18,502.69 L251.35,500.05 L251.51,497.42 L251.68,494.79 L251.85,492.16 L252.01,489.53 L252.18,486.90 L252.34,484.27 L252.51,481.64 L252.67,479.01 L252.84,476.38 L253.00,473.75 L253.16,471.12 L253.33,468.49 L253.49,465.86 L253.65,463.24 L253.81,460.61 L253.97,457.98 L254.13,455.35 L254.29,452.72 L254.45,450.10 L254.61,447.47 L254.77,444.84 L254.93,442.21 L255.09,439.59 L255.24,436.96 L255.40,434.33 L255.56,431.70 L255.71,429.08 L255.87,426.45 L256.02,423.82 L256.18,421.20 L256.33,418.57 L256.49,415.94 L256.64,413.32 L256.79,410.69 L256.94,408.06 L257.09,405.44 L257.24,402.81 L257.39,400.18 L257.54,397.56 L257.69,394.93 L257.84,392.30 L257.99,389.68 L258.13,387.05 L258.28,384.42 L258.43,381.79 L258.57,379.17 L258.72,376.54 L258.86,373.91 L259.00,371.28 L259.15,368.65 L259.29,366.03 L259.43,363.40 L259.57,360.77 L259.71,358.14 L259.85,355.51 L259.99,352.88 L260.12,350.25 L260.26,347.62 L260.40,344.99 L260.53,342.36 L260.67,339.73 L260.80,337.10 L260.94,334.47 L261.07,331.84 L261.20,329.20 L261.34,326.57 L261.47,323.94 L261.60,321.31 L261.74,318.68 L261.87,316.04 L262.00,313.41 L262.14,310.78 L262.27,308.14 L262.41,305.51 L262.54,302.88 L262.68,300.24 L262.81,297.61 L262.95,294.98 L263.09,292.34 L263.23,289.71 L263.37,287.07 L263.51,284.44 L263.65,281.81 L263.80,279.17 L263.94,276.54 L264.09,273.90 L264.24,271.27 L264.39,268.63 L264.54,266.00 L264.70,263.36 L264.85,260.73 L265.01,258.09 L265.17,255.46 L265.33,252.82 L265.50,250.19 L265.66,247.55 L265.83,244.92 L266.00,242.28 L266.18,239.65 L266.36,237.01 L266.54,234.38 L266.72,231.74 L266.90,229.11 L267.09,226.47 L267.28,223.84 L267.48,221.20 L267.68,218.57 L267.88,215.93 L268.08,213.30 L268.29,210.66 L268.50,208.03 L268.72,205.40 L268.94,202.77 L269.17,200.14 L269.41,197.53 L269.66,194.92 L269.91,192.32 L270.18,189.74 L270.46,187.18 L270.76,184.63 L271.07,182.10 L271.40,179.59 L271.86,177.07 L272.61,174.50 L273.81,171.85 L275.40,169.28 L277.25,166.99 L279.25,165.15 L281.27,164.03 L283.06,164.11 L284.50,165.49 L285.60,167.68 L286.42,170.19 L287.02,172.76 L287.45,175.36 L287.79,177.99 L288.09,180.63 L288.39,183.26 L288.69,185.90 L288.98,188.53 L289.26,191.16 L289.55,193.80 L289.83,196.43 L290.11,199.07 L290.38,201.70 L290.65,204.33 L290.92,206.97 L291.18,209.60 L291.44,212.23 L291.70,214.86 L291.96,217.49 L292.21,220.13 L292.47,222.76 L292.72,225.39 L292.96,228.02 L293.21,230.65 L293.45,233.28 L293.69,235.91 L293.93,238.54 L294.17,241.17 L294.41,243.80 L294.64,246.43 L294.88,249.06 L295.11,251.69 L295.34,254.32 L295.57,256.95 L295.80,259.58 L296.03,262.21 L296.26,264.83 L296.49,267.46 L296.72,270.09 L296.95,272.72 L297.17,275.34 L297.40,277.97 L297.63,280.59 L297.86,283.22 L298.08,285.85 L298.31,288.47 L298.54,291.10 L298.77,293.72 L299.00,296.34 L299.23,298.97 L299.47,301.59 L299.70,304.22 L299.93,306.84 L300.17,309.46 L300.41,312.08 L300.65,314.71 L300.89,317.33 L301.13,319.95 L301.37,322.57 L301.62,325.19 L301.87,327.81 L302.12,330.43 L302.37,333.05 L302.62,335.67 L302.88,338.29 L303.14,340.91 L303.40,343.53 L303.67,346.14 L303.94,348.76 L304.21,351.38 L304.48,353.99 L304.76,356.61 L305.04,359.23 L305.33,361.84 L305.62,364.46 L305.91,367.07 L306.20,369.69 L306.50,372.30 L306.81,374.91 L307.12,377.53 L307.43,380.14 L307.75,382.75 L308.07,385.36 L308.39,387.98 L308.72,390.59 L309.06,393.20 L309.40,395.81 L309.75,398.42 L310.10,401.03 L310.45,403.64 L310.82,406.24 L311.18,408.85 L311.56,411.46 L311.93,414.07 L312.32,416.67 L312.71,419.28 L313.10,421.89 L313.50,424.49 L313.90,427.10 L314.30,429.70 L314.70,432.31 L315.10,434.92 L315.51,437.52 L315.91,440.13 L316.30,442.74 L316.70,445.34 L317.09,447.95 L317.47,450.56 L317.85,453.17 L318.22,455.78 L318.59,458.39 L318.95,461.00 L319.30,463.62 L319.64,466.23 L319.97,468.85 L320.29,471.47 L320.61,474.08 L320.92,476.70 L321.23,479.32 L321.53,481.94 L321.82,484.56 L322.11,487.18 L322.40,489.80 L322.69,492.42 L322.97,495.04 L323.25,497.66 L323.53,500.28 L323.81,502.90 L324.09,505.52 L324.37,508.14 L324.66,510.75 L324.94,513.37 L325.23,515.99 L325.51,518.60 L325.81,521.22 L326.10,523.83 L326.40,526.44 L326.71,529.05 L327.02,531.66 L327.34,534.27 L327.67,536.87 L328.00,539.48 L328.34,542.08 L328.69,544.68 L329.05,547.29 L329.42,549.89 L329.79,552.49 L330.18,555.09 L330.58,557.69 L330.99,560.29 L331.41,562.89 L331.85,565.49 L332.29,568.09 L332.75,570.69 L333.23,573.29 L333.72,575.90 L334.22,578.50 L334.74,581.11 L335.27,583.72 L335.82,586.33 L336.39,588.94 L336.96,591.54 L337.55,594.14 L338.14,596.73 L338.73,599.31 L339.32,601.88 L339.91,604.43 L340.49,606.96 L341.07,609.47 L341.64,611.97 L342.21,614.47 L342.76,616.97 L343.31,619.48 L343.86,621.99 L344.40,624.53 L344.93,627.10 L345.46,629.70 L345.98,632.33 L346.50,635.01 L347.01,637.74 L347.52,640.53 L348.02,643.38 L348.56,646.24 L349.25,648.94 L350.22,651.32 L351.58,653.22 L353.43,654.47 L355.71,654.94 L358.21,654.59 L360.80,653.68 L363.42,652.71 L365.99,652.15 L368.48,652.28 L370.90,653.01 L373.30,654.15 L375.68,655.50 L378.08,656.87 L380.52,658.06 L383.04,658.87 L385.66,659.12 L388.40,658.60 Z" fill="rgba(255,255,0,0.5)" stroke="none"/>
<line x1="207.5" y1="658.6" x2="388.4" y2="658.6" stroke="#000" stroke-width="2.1"/>
<path d="M207.50,658.60 L210.24,658.53 L212.78,657.96 L215.13,656.97 L217.33,655.62 L219.38,654.00 L221.32,652.16 L223.15,650.19 L224.90,648.15 L226.58,646.06 L228.17,643.92 L229.69,641.73 L231.12,639.49 L232.48,637.22 L233.76,634.91 L234.96,632.57 L236.08,630.20 L237.12,627.81 L238.08,625.39 L238.96,622.95 L239.78,620.49 L240.53,618.01 L241.21,615.51 L241.84,612.99 L242.41,610.46 L242.92,607.91 L243.39,605.35 L243.82,602.77 L244.20,600.18 L244.55,597.59 L244.86,594.98 L245.14,592.36 L245.39,589.74 L245.63,587.11 L245.84,584.47 L246.04,581.83 L246.22,579.19 L246.40,576.55 L246.58,573.90 L246.75,571.26 L246.92,568.62 L247.09,565.97 L247.27,563.33 L247.44,560.69 L247.61,558.05 L247.78,555.41 L247.96,552.77 L248.13,550.13 L248.30,547.49 L248.47,544.85 L248.64,542.21 L248.81,539.57 L248.98,536.93 L249.15,534.30 L249.33,531.66 L249.50,529.02 L249.66,526.39 L249.83,523.75 L250.00,521.12 L250.17,518.48 L250.34,515.85 L250.51,513.22 L250.68,510.58 L250.85,507.95 L251.01,505.32 L251.18,502.69 L251.35,500.05 L251.51,497.42 L251.68,494.79 L251.85,492.16 L252.01,489.53 L252.18,486.90 L252.34,484.27 L252.51,481.64 L252.67,479.01 L252.84,476.38 L253.00,473.75 L253.16,471.12 L253.33,468.49 L253.49,465.86 L253.65,463.24 L253.81,460.61 L253.97,457.98 L254.13,455.35 L254.29,452.72 L254.45,450.10 L254.61,447.47 L254.77,444.84 L254.93,442.21 L255.09,439.59 L255.24,436.96 L255.40,434.33 L255.56,431.70 L255.71,429.08 L255.87,426.45 L256.02,423.82 L256.18,421.20 L256.33,418.57 L256.49,415.94 L256.64,413.32 L256.79,410.69 L256.94,408.06 L257.09,405.44 L257.24,402.81 L257.39,400.18 L257.54,397.56 L257.69,394.93 L257.84,392.30 L257.99,389.68 L258.13,387.05 L258.28,384.42 L258.43,381.79 L258.57,379.17 L258.72,376.54 L258.86,373.91 L259.00,371.28 L259.15,368.65 L259.29,366.03 L259.43,363.40 L259.57,360.77 L259.71,358.14 L259.85,355.51 L259.99,352.88 L260.12,350.25 L260.26,347.62 L260.40,344.99 L260.53,342.36 L260.67,339.73 L260.80,337.10 L260.94,334.47 L261.07,331.84 L261.20,329.20 L261.34,326.57 L261.47,323.94 L261.60,321.31 L261.74,318.68 L261.87,316.04 L262.00,313.41 L262.14,310.78 L262.27,308.14 L262.41,305.51 L262.54,302.88 L262.68,300.24 L262.81,297.61 L262.95,294.98 L263.09,292.34 L263.23,289.71 L263.37,287.07 L263.51,284.44 L263.65,281.81 L263.80,279.17 L263.94,276.54 L264.09,273.90 L264.24,271.27 L264.39,268.63 L264.54,266.00 L264.70,263.36 L264.85,260.73 L265.01,258.09 L265.17,255.46 L265.33,252.82 L265.50,250.19 L265.66,247.55 L265.83,244.92 L266.00,242.28 L266.18,239.65 L266.36,237.01 L266.54,234.38 L266.72,231.74 L266.90,229.11 L267.09,226.47 L267.28,223.84 L267.48,221.20 L267.68,218.57 L267.88,215.93 L268.08,213.30 L268.29,210.66 L268.50,208.03 L268.72,205.40 L268.94,202.77 L269.17,200.14 L269.41,197.53 L269.66,194.92 L269.91,192.32 L270.18,189.74 L270.46,187.18 L270.76,184.63 L271.07,182.10 L271.40,179.59 L271.86,177.07 L272.61,174.50 L273.81,171.85 L275.40,169.28 L277.25,166.99 L279.25,165.15 L281.27,164.03 L283.06,164.11 L284.50,165.49 L285.60,167.68 L286.42,170.19 L287.02,172.76 L287.45,175.36 L287.79,177.99 L288.09,180.63 L288.39,183.26 L288.69,185.90 L288.98,188.53 L289.26,191.16 L289.55,193.80 L289.83,196.43 L290.11,199.07 L290.38,201.70 L290.65,204.33 L290.92,206.97 L291.18,209.60 L291.44,212.23 L291.70,214.86 L291.96,217.49 L292.21,220.13 L292.47,222.76 L292.72,225.39 L292.96,228.02 L293.21,230.65 L293.45,233.28 L293.69,235.91 L293.93,238.54 L294.17,241.17 L294.41,243.80 L294.64,246.43 L294.88,249.06 L295.11,251.69 L295.34,254.32 L295.57,256.95 L295.80,259.58 L296.03,262.21 L296.26,264.83 L296.49,267.46 L296.72,270.09 L296.95,272.72 L297.17,275.34 L297.40,277.97 L297.63,280.59 L297.86,283.22 L298.08,285.85 L298.31,288.47 L298.54,291.10 L298.77,293.72 L299.00,296.34 L299.23,298.97 L299.47,301.59 L299.70,304.22 L299.93,306.84 L300.17,309.46 L300.41,312.08 L300.65,314.71 L300.89,317.33 L301.13,319.95 L301.37,322.57 L301.62,325.19 L301.87,327.81 L302.12,330.43 L302.37,333.05 L302.62,335.67 L302.88,338.29 L303.14,340.91 L303.40,343.53 L303.67,346.14 L303.94,348.76 L304.21,351.38 L304.48,353.99 L304.76,356.61 L305.04,359.23 L305.33,361.84 L305.62,364.46 L305.91,367.07 L306.20,369.69 L306.50,372.30 L306.81,374.91 L307.12,377.53 L307.43,380.14 L307.75,382.75 L308.07,385.36 L308.39,387.98 L308.72,390.59 L309.06,393.20 L309.40,395.81 L309.75,398.42 L310.10,401.03 L310.45,403.64 L310.82,406.24 L311.18,408.85 L311.56,411.46 L311.93,414.07 L312.32,416.67 L312.71,419.28 L313.10,421.89 L313.50,424.49 L313.90,427.10 L314.30,429.70 L314.70,432.31 L315.10,434.92 L315.51,437.52 L315.91,440.13 L316.30,442.74 L316.70,445.34 L317.09,447.95 L317.47,450.56 L317.85,453.17 L318.22,455.78 L318.59,458.39 L318.95,461.00 L319.30,463.62 L319.64,466.23 L319.97,468.85 L320.29,471.47 L320.61,474.08 L320.92,476.70 L321.23,479.32 L321.53,481.94 L321.82,484.56 L322.11,487.18 L322.40,489.80 L322.69,492.42 L322.97,495.04 L323.25,497.66 L323.53,500.28 L323.81,502.90 L324.09,505.52 L324.37,508.14 L324.66,510.75 L324.94,513.37 L325.23,515.99 L325.51,518.60 L325.81,521.22 L326.10,523.83 L326.40,526.44 L326.71,529.05 L327.02,531.66 L327.34,534.27 L327.67,536.87 L328.00,539.48 L328.34,542.08 L328.69,544.68 L329.05,547.29 L329.42,549.89 L329.79,552.49 L330.18,555.09 L330.58,557.69 L330.99,560.29 L331.41,562.89 L331.85,565.49 L332.29,568.09 L332.75,570.69 L333.23,573.29 L333.72,575.90 L334.22,578.50 L334.74,581.11 L335.27,583.72 L335.82,586.33 L336.39,588.94 L336.96,591.54 L337.55,594.14 L338.14,596.73 L338.73,599.31 L339.32,601.88 L339.91,604.43 L340.49,606.96 L341.07,609.47 L341.64,611.97 L342.21,614.47 L342.76,616.97 L343.31,619.48 L343.86,621.99 L344.40,624.53 L344.93,627.10 L345.46,629.70 L345.98,632.33 L346.50,635.01 L347.01,637.74 L347.52,640.53 L348.02,643.38 L348.56,646.24 L349.25,648.94 L350.22,651.32 L351.58,653.22 L353.43,654.47 L355.71,654.94 L358.21,654.59 L360.80,653.68 L363.42,652.71 L365.99,652.15 L368.48,652.28 L370.90,653.01 L373.30,654.15 L375.68,655.50 L378.08,656.87 L380.52,658.06 L383.04,658.87 L385.66,659.12 L388.40,658.60" fill="none" stroke="#ffff00" stroke-width="3.9" stroke-linejoin="round" stroke-linecap="round"/>
<path d="M207.50,658.60 L210.24,658.53 L212.78,657.96 L215.13,656.97 L217.33,655.62 L219.38,654.00 L221.32,652.16 L223.15,650.19 L224.90,648.15 L226.58,646.06 L228.17,643.92 L229.69,641.73 L231.12,639.49 L232.48,637.22 L233.76,634.91 L234.96,632.57 L236.08,630.20 L237.12,627.81 L238.08,625.39 L238.96,622.95 L239.78,620.49 L240.53,618.01 L241.21,615.51 L241.84,612.99 L242.41,610.46 L242.92,607.91 L243.39,605.35 L243.82,602.77 L244.20,600.18 L244.55,597.59 L244.86,594.98 L245.14,592.36 L245.39,589.74 L245.63,587.11 L245.84,584.47 L246.04,581.83 L246.22,579.19 L246.40,576.55 L246.58,573.90 L246.75,571.26 L246.92,568.62 L247.09,565.97 L247.27,563.33 L247.44,560.69 L247.61,558.05 L247.78,555.41 L247.96,552.77 L248.13,550.13 L248.30,547.49 L248.47,544.85 L248.64,542.21 L248.81,539.57 L248.98,536.93 L249.15,534.30 L249.33,531.66 L249.50,529.02 L249.66,526.39 L249.83,523.75 L250.00,521.12 L250.17,518.48 L250.34,515.85 L250.51,513.22 L250.68,510.58 L250.85,507.95 L251.01,505.32 L251.18,502.69 L251.35,500.05 L251.51,497.42 L251.68,494.79 L251.85,492.16 L252.01,489.53 L252.18,486.90 L252.34,484.27 L252.51,481.64 L252.67,479.01 L252.84,476.38 L253.00,473.75 L253.16,471.12 L253.33,468.49 L253.49,465.86 L253.65,463.24 L253.81,460.61 L253.97,457.98 L254.13,455.35 L254.29,452.72 L254.45,450.10 L254.61,447.47 L254.77,444.84 L254.93,442.21 L255.09,439.59 L255.24,436.96 L255.40,434.33 L255.56,431.70 L255.71,429.08 L255.87,426.45 L256.02,423.82 L256.18,421.20 L256.33,418.57 L256.49,415.94 L256.64,413.32 L256.79,410.69 L256.94,408.06 L257.09,405.44 L257.24,402.81 L257.39,400.18 L257.54,397.56 L257.69,394.93 L257.84,392.30 L257.99,389.68 L258.13,387.05 L258.28,384.42 L258.43,381.79 L258.57,379.17 L258.72,376.54 L258.86,373.91 L259.00,371.28 L259.15,368.65 L259.29,366.03 L259.43,363.40 L259.57,360.77 L259.71,358.14 L259.85,355.51 L259.99,352.88 L260.12,350.25 L260.26,347.62 L260.40,344.99 L260.53,342.36 L260.67,339.73 L260.80,337.10 L260.94,334.47 L261.07,331.84 L261.20,329.20 L261.34,326.57 L261.47,323.94 L261.60,321.31 L261.74,318.68 L261.87,316.04 L262.00,313.41 L262.14,310.78 L262.27,308.14 L262.41,305.51 L262.54,302.88 L262.68,300.24 L262.81,297.61 L262.95,294.98 L263.09,292.34 L263.23,289.71 L263.37,287.07 L263.51,284.44 L263.65,281.81 L263.80,279.17 L263.94,276.54 L264.09,273.90 L264.24,271.27 L264.39,268.63 L264.54,266.00 L264.70,263.36 L264.85,260.73 L265.01,258.09 L265.17,255.46 L265.33,252.82 L265.50,250.19 L265.66,247.55 L265.83,244.92 L266.00,242.28 L266.18,239.65 L266.36,237.01 L266.54,234.38 L266.72,231.74 L266.90,229.11 L267.09,226.47 L267.28,223.84 L267.48,221.20 L267.68,218.57 L267.88,215.93 L268.08,213.30 L268.29,210.66 L268.50,208.03 L268.72,205.40 L268.94,202.77 L269.17,200.14 L269.41,197.53 L269.66,194.92 L269.91,192.32 L270.18,189.74 L270.46,187.18 L270.76,184.63 L271.07,182.10 L271.40,179.59 L271.86,177.07 L272.61,174.50 L273.81,171.85 L275.40,169.28 L277.25,166.99 L279.25,165.15 L281.27,164.03 L283.06,164.11 L284.50,165.49 L285.60,167.68 L286.42,170.19 L287.02,172.76 L287.45,175.36 L287.79,177.99 L288.09,180.63 L288.39,183.26 L288.69,185.90 L288.98,188.53 L289.26,191.16 L289.55,193.80 L289.83,196.43 L290.11,199.07 L290.38,201.70 L290.65,204.33 L290.92,206.97 L291.18,209.60 L291.44,212.23 L291.70,214.86 L291.96,217.49 L292.21,220.13 L292.47,222.76 L292.72,225.39 L292.96,228.02 L293.21,230.65 L293.45,233.28 L293.69,235.91 L293.93,238.54 L294.17,241.17 L294.41,243.80 L294.64,246.43 L294.88,249.06 L295.11,251.69 L295.34,254.32 L295.57,256.95 L295.80,259.58 L296.03,262.21 L296.26,264.83 L296.49,267.46 L296.72,270.09 L296.95,272.72 L297.17,275.34 L297.40,277.97 L297.63,280.59 L297.86,283.22 L298.08,285.85 L298.31,288.47 L298.54,291.10 L298.77,293.72 L299.00,296.34 L299.23,298.97 L299.47,301.59 L299.70,304.22 L299.93,306.84 L300.17,309.46 L300.41,312.08 L300.65,314.71 L300.89,317.33 L301.13,319.95 L301.37,322.57 L301.62,325.19 L301.87,327.81 L302.12,330.43 L302.37,333.05 L302.62,335.67 L302.88,338.29 L303.14,340.91 L303.40,343.53 L303.67,346.14 L303.94,348.76 L304.21,351.38 L304.48,353.99 L304.76,356.61 L305.04,359.23 L305.33,361.84 L305.62,364.46 L305.91,367.07 L306.20,369.69 L306.50,372.30 L306.81,374.91 L307.12,377.53 L307.43,380.14 L307.75,382.75 L308.07,385.36 L308.39,387.98 L308.72,390.59 L309.06,393.20 L309.40,395.81 L309.75,398.42 L310.10,401.03 L310.45,403.64 L310.82,406.24 L311.18,408.85 L311.56,411.46 L311.93,414.07 L312.32,416.67 L312.71,419.28 L313.10,421.89 L313.50,424.49 L313.90,427.10 L314.30,429.70 L314.70,432.31 L315.10,434.92 L315.51,437.52 L315.91,440.13 L316.30,442.74 L316.70,445.34 L317.09,447.95 L317.47,450.56 L317.85,453.17 L318.22,455.78 L318.59,458.39 L318.95,461.00 L319.30,463.62 L319.64,466.23 L319.97,468.85 L320.29,471.47 L320.61,474.08 L320.92,476.70 L321.23,479.32 L321.53,481.94 L321.82,484.56 L322.11,487.18 L322.40,489.80 L322.69,492.42 L322.97,495.04 L323.25,497.66 L323.53,500.28 L323.81,502.90 L324.09,505.52 L324.37,508.14 L324.66,510.75 L324.94,513.37 L325.23,515.99 L325.51,518.60 L325.81,521.22 L326.10,523.83 L326.40,526.44 L326.71,529.05 L327.02,531.66 L327.34,534.27 L327.67,536.87 L328.00,539.48 L328.34,542.08 L328.69,544.68 L329.05,547.29 L329.42,549.89 L329.79,552.49 L330.18,555.09 L330.58,557.69 L330.99,560.29 L331.41,562.89 L331.85,565.49 L332.29,568.09 L332.75,570.69 L333.23,573.29 L333.72,575.90 L334.22,578.50 L334.74,581.11 L335.27,583.72 L335.82,586.33 L336.39,588.94 L336.96,591.54 L337.55,594.14 L338.14,596.73 L338.73,599.31 L339.32,601.88 L339.91,604.43 L340.49,606.96 L341.07,609.47 L341.64,611.97 L342.21,614.47 L342.76,616.97 L343.31,619.48 L343.86,621.99 L344.40,624.53 L344.93,627.10 L345.46,629.70 L345.98,632.33 L346.50,635.01 L347.01,637.74 L347.52,640.53 L348.02,643.38 L348.56,646.24 L349.25,648.94 L350.22,651.32 L351.58,653.22 L353.43,654.47 L355.71,654.94 L358.21,654.59 L360.80,653.68 L363.42,652.71 L365.99,652.15 L368.48,652.28 L370.90,653.01 L373.30,654.15 L375.68,655.50 L378.08,656.87 L380.52,658.06 L383.04,658.87 L385.66,659.12 L388.40,658.60" fill="none" stroke="#000" stroke-width="2.0" stroke-linejoin="round" stroke-linecap="round"/>

<rect x="144" y="143" width="809" height="535" fill="none" stroke="#000" stroke-width="1.9"/>
<line x1="309.8" y1="678" x2="309.8" y2="696.5" stroke="#000" stroke-width="1.9"/>
<g transform="translate(309.80,743) scale(1,1.06)"><text x="-20.85" y="0" font-family="Liberation Sans" font-size="30" stroke="#000" stroke-width="0.15">0</text><text x="-4.17" y="0" font-family="Liberation Sans" font-size="30" stroke="#000" stroke-width="0.15">.</text><path d="M15.03,0 L15.03,-20.19 L13.38,-20.19 C12.63,-18.42 11.13,-16.50 7.98,-15.81 L7.98,-14.04 C9.93,-14.13 11.43,-14.31 12.57,-15.00 L12.57,0 Z"/></g>
<line x1="514.9" y1="678" x2="514.9" y2="696.5" stroke="#000" stroke-width="1.9"/>
<g transform="translate(514.85,743) scale(1,1.06)"><text x="-20.85" y="0" font-family="Liberation Sans" font-size="30" stroke="#000" stroke-width="0.15">0</text><text x="-4.17" y="0" font-family="Liberation Sans" font-size="30" stroke="#000" stroke-width="0.15">.</text><text x="4.17" y="0" font-family="Liberation Sans" font-size="30" stroke="#000" stroke-width="0.15">2</text></g>
<line x1="719.9" y1="678" x2="719.9" y2="696.5" stroke="#000" stroke-width="1.9"/>
<g transform="translate(719.90,743) scale(1,1.06)"><text x="-20.85" y="0" font-family="Liberation Sans" font-size="30" stroke="#000" stroke-width="0.15">0</text><text x="-4.17" y="0" font-family="Liberation Sans" font-size="30" stroke="#000" stroke-width="0.15">.</text><text x="4.17" y="0" font-family="Liberation Sans" font-size="30" stroke="#000" stroke-width="0.15">3</text></g>
<line x1="925.0" y1="678" x2="925.0" y2="696.5" stroke="#000" stroke-width="1.9"/>
<g transform="translate(924.95,743) scale(1,1.06)"><text x="-20.85" y="0" font-family="Liberation Sans" font-size="30" stroke="#000" stroke-width="0.15">0</text><text x="-4.17" y="0" font-family="Liberation Sans" font-size="30" stroke="#000" stroke-width="0.15">.</text><text x="4.17" y="0" font-family="Liberation Sans" font-size="30" stroke="#000" stroke-width="0.15">4</text></g>
<line x1="125.5" y1="658.6" x2="144" y2="658.6" stroke="#000" stroke-width="1.9"/>
<g transform="translate(101.3,658.60) rotate(-90) scale(1,1.06)"><text x="-8.34" y="0" font-family="Liberation Sans" font-size="30" stroke="#000" stroke-width="0.15">0</text></g>
<line x1="125.5" y1="588.8" x2="144" y2="588.8" stroke="#000" stroke-width="1.9"/>
<g transform="translate(101.3,588.82) rotate(-90) scale(1,1.06)"><text x="-8.34" y="0" font-family="Liberation Sans" font-size="30" stroke="#000" stroke-width="0.15">5</text></g>
<line x1="125.5" y1="519.0" x2="144" y2="519.0" stroke="#000" stroke-width="1.9"/>
<g transform="translate(101.3,519.03) rotate(-90) scale(1,1.06)"><path d="M-5.82,0 L-5.82,-20.19 L-7.47,-20.19 C-8.22,-18.42 -9.72,-16.50 -12.87,-15.81 L-12.87,-14.04 C-10.92,-14.13 -9.42,-14.31 -8.28,-15.00 L-8.28,0 Z"/><text x="0.00" y="0" font-family="Liberation Sans" font-size="30" stroke="#000" stroke-width="0.15">0</text></g>
<line x1="125.5" y1="449.2" x2="144" y2="449.2" stroke="#000" stroke-width="1.9"/>
<g transform="translate(101.3,449.25) rotate(-90) scale(1,1.06)"><path d="M-5.82,0 L-5.82,-20.19 L-7.47,-20.19 C-8.22,-18.42 -9.72,-16.50 -12.87,-15.81 L-12.87,-14.04 C-10.92,-14.13 -9.42,-14.31 -8.28,-15.00 L-8.28,0 Z"/><text x="0.00" y="0" font-family="Liberation Sans" font-size="30" stroke="#000" stroke-width="0.15">5</text></g>
<line x1="125.5" y1="379.5" x2="144" y2="379.5" stroke="#000" stroke-width="1.9"/>
<g transform="translate(101.3,379.46) rotate(-90) scale(1,1.06)"><text x="-16.68" y="0" font-family="Liberation Sans" font-size="30" stroke="#000" stroke-width="0.15">2</text><text x="0.00" y="0" font-family="Liberation Sans" font-size="30" stroke="#000" stroke-width="0.15">0</text></g>
<line x1="125.5" y1="309.7" x2="144" y2="309.7" stroke="#000" stroke-width="1.9"/>
<g transform="translate(101.3,309.68) rotate(-90) scale(1,1.06)"><text x="-16.68" y="0" font-family="Liberation Sans" font-size="30" stroke="#000" stroke-width="0.15">2</text><text x="0.00" y="0" font-family="Liberation Sans" font-size="30" stroke="#000" stroke-width="0.15">5</text></g>
<line x1="125.5" y1="239.9" x2="144" y2="239.9" stroke="#000" stroke-width="1.9"/>
<g transform="translate(101.3,239.89) rotate(-90) scale(1,1.06)"><text x="-16.68" y="0" font-family="Liberation Sans" font-size="30" stroke="#000" stroke-width="0.15">3</text><text x="0.00" y="0" font-family="Liberation Sans" font-size="30" stroke="#000" stroke-width="0.15">0</text></g>
<line x1="125.5" y1="170.1" x2="144" y2="170.1" stroke="#000" stroke-width="1.9"/>
<g transform="translate(101.3,170.11) rotate(-90) scale(1,1.06)"><text x="-16.68" y="0" font-family="Liberation Sans" font-size="30" stroke="#000" stroke-width="0.15">3</text><text x="0.00" y="0" font-family="Liberation Sans" font-size="30" stroke="#000" stroke-width="0.15">5</text></g>
<text transform="translate(28.9,410.4) rotate(-90) scale(1,1.06)" font-family="Liberation Sans" font-size="30" stroke="#000" stroke-width="0.15" text-anchor="middle">Density</text>
<text transform="translate(548.5,814) scale(1.12,1)" font-family="Liberation Serif" font-size="30" text-anchor="middle">θ</text>
<text transform="translate(842.6,183.8) scale(1,1.07)" font-family="Liberation Sans" font-size="30" stroke="#000" stroke-width="0.15" text-anchor="middle">Component</text>
<rect x="808.9" y="214.9" width="28.4" height="20.1" fill="rgba(0,0,139,0.5)" stroke="#000" stroke-width="1.6"/>
<g transform="translate(879.5,235.70) scale(1,1.06)"><path d="M2.52,0 L2.52,-20.19 L0.87,-20.19 C0.12,-18.42 -1.38,-16.50 -4.53,-15.81 L-4.53,-14.04 C-2.58,-14.13 -1.08,-14.31 0.06,-15.00 L0.06,0 Z"/></g>
<rect x="808.9" y="255.9" width="28.4" height="20.1" fill="rgba(0,100,0,0.5)" stroke="#000" stroke-width="1.6"/>
<g transform="translate(879.5,276.70) scale(1,1.06)"><text x="-8.34" y="0" font-family="Liberation Sans" font-size="30" stroke="#000" stroke-width="0.15">2</text></g>
<rect x="808.9" y="296.9" width="28.4" height="20.1" fill="rgba(255,255,0,0.5)" stroke="#000" stroke-width="1.6"/>
<g transform="translate(879.5,317.70) scale(1,1.06)"><text x="-8.34" y="0" font-family="Liberation Sans" font-size="30" stroke="#000" stroke-width="0.15">3</text></g>
</svg>
</body></html>
